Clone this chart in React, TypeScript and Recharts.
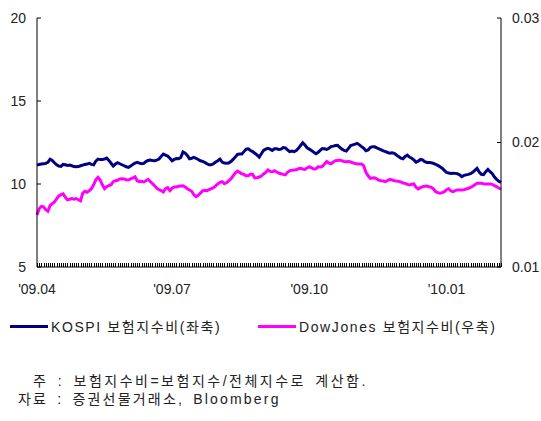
import React from "react";
import { LineChart, Line, XAxis, YAxis } from "recharts";

const kospiRatio: number[] = [
  11.14, 11.18, 11.2, 11.22, 11.24, 11.3, 11.49, 11.42, 11.28, 11.16,
  11.08, 11.06, 11.18, 11.16, 11.12, 11.14, 11.1, 11.05, 11.04, 11.05,
  11.1, 11.14, 11.18, 11.2, 11.24, 11.18, 11.16, 11.38, 11.5, 11.47,
  11.48, 11.5, 11.56, 11.42, 11.25, 11.08, 11.2, 11.28, 11.22, 11.16,
  11.1, 11.04, 11.0, 11.08, 11.18, 11.26, 11.3, 11.26, 11.22, 11.24,
  11.35, 11.42, 11.45, 11.42, 11.4, 11.44, 11.5, 11.65, 11.8, 11.74,
  11.68, 11.55, 11.4, 11.48, 11.54, 11.52, 11.6, 11.93, 11.85, 11.72,
  11.52, 11.55, 11.6, 11.55, 11.48, 11.4, 11.36, 11.3, 11.22, 11.16,
  11.16, 11.22, 11.32, 11.4, 11.5, 11.32, 11.26, 11.25, 11.26, 11.35,
  11.48, 11.62, 11.78, 11.8, 11.8, 11.95, 12.1, 12.12, 12.02, 11.95,
  11.85, 11.75, 11.62, 11.82, 12.02, 12.1, 12.15, 12.1, 12.02, 12.12,
  12.12, 12.08, 12.1, 12.2, 12.18, 12.06, 11.95, 11.98, 11.95, 12.02,
  12.15, 12.32, 12.48, 12.35, 12.18, 12.1, 12.02, 11.92, 11.82, 11.9,
  12.02, 12.14, 12.12, 12.08, 12.15, 12.25, 12.28, 12.32, 12.33, 12.2,
  12.1, 12.02, 11.98, 12.15, 12.32, 12.36, 12.4, 12.45, 12.36, 12.25,
  12.15, 12.0, 12.05, 12.2, 12.25, 12.24, 12.18, 12.12, 12.06, 12.0,
  11.95, 11.9, 11.86, 11.88, 11.85, 11.75, 11.65, 11.56, 11.52, 11.66,
  11.74, 11.62, 11.55, 11.45, 11.32, 11.38, 11.48, 11.45, 11.35, 11.3,
  11.3, 11.28, 11.24, 11.18, 11.12, 11.04, 10.95, 10.82, 10.7, 10.66,
  10.64, 10.65, 10.64, 10.62, 10.55, 10.44, 10.52, 10.55, 10.58, 10.62,
  10.7, 10.82, 10.94, 10.72, 10.58, 10.56, 10.74, 10.88, 10.74, 10.62,
  10.42, 10.28, 10.16, 10.1,
];

const dowRatio: number[] = [
  0.01417, 0.01467, 0.01487, 0.01483, 0.0146, 0.01448, 0.01493, 0.01509, 0.01523, 0.01547,
  0.01571, 0.01581, 0.01587, 0.0156, 0.01539, 0.01544, 0.01549, 0.01544, 0.01549, 0.0154,
  0.01531, 0.01593, 0.01608, 0.016, 0.01613, 0.01629, 0.0166, 0.017, 0.0172, 0.01699,
  0.0166, 0.01629, 0.01645, 0.01653, 0.01661, 0.01685, 0.01693, 0.01696, 0.01707, 0.01709,
  0.01707, 0.01701, 0.01699, 0.01707, 0.01715, 0.01725, 0.01693, 0.01685, 0.01688, 0.01683,
  0.01693, 0.01704, 0.01687, 0.01669, 0.01653, 0.01633, 0.01621, 0.01613, 0.01603, 0.01629,
  0.01637, 0.01613, 0.01633, 0.01643, 0.01643, 0.01648, 0.01651, 0.01653, 0.01643, 0.01629,
  0.01619, 0.01608, 0.0158, 0.01565, 0.01576, 0.01593, 0.01611, 0.01616, 0.01613, 0.01621,
  0.01629, 0.01637, 0.01651, 0.01667, 0.0168, 0.01685, 0.01669, 0.01677, 0.01691, 0.01707,
  0.01731, 0.01755, 0.01771, 0.0176, 0.01749, 0.01744, 0.01733, 0.01733, 0.01747, 0.01744,
  0.01715, 0.01717, 0.01723, 0.01731, 0.01747, 0.0176, 0.01779, 0.01768, 0.01765, 0.01773,
  0.01763, 0.01755, 0.01749, 0.01744, 0.0174, 0.0176, 0.01773, 0.01776, 0.01779, 0.01781,
  0.01789, 0.01792, 0.01787, 0.01784, 0.01795, 0.01805, 0.01797, 0.01787, 0.01789, 0.01805,
  0.01803, 0.01808, 0.01827, 0.01847, 0.01835, 0.01829, 0.01843, 0.01853, 0.01856, 0.01859,
  0.01853, 0.01848, 0.01845, 0.01848, 0.01843, 0.01837, 0.01832, 0.01829, 0.01827, 0.01827,
  0.01813, 0.0176, 0.01733, 0.01712, 0.01715, 0.01717, 0.01707, 0.01696, 0.01693, 0.01691,
  0.01685, 0.01696, 0.01704, 0.01699, 0.01693, 0.01691, 0.01688, 0.01683, 0.01675, 0.01672,
  0.01664, 0.01659, 0.01664, 0.01667, 0.0164, 0.01627, 0.01637, 0.01645, 0.01648, 0.01651,
  0.01645, 0.0164, 0.01627, 0.01605, 0.01597, 0.01592, 0.01597, 0.01605, 0.01621, 0.01629,
  0.01611, 0.01605, 0.01613, 0.01619, 0.01619, 0.01619, 0.01621, 0.01627, 0.01632, 0.0164,
  0.01648, 0.01661, 0.01672, 0.01672, 0.01672, 0.01669, 0.01667, 0.01667, 0.01667, 0.01664,
  0.01653, 0.01645, 0.01635, 0.01625,
];

const monthLabels: string[] = ["'09.04", "'09.07", "'09.10", "'10.01"];
const monthLabelIndex: number[] = [0, 62, 125, 188];

const leftTicks: number[] = [5, 10, 15, 20];
const rightTicks: number[] = [0.01, 0.02, 0.03];

const seriesNames: string[] = ["KOSPI 보험지수비(좌축)", "DowJones 보험지수비(우축)"];
const seriesColors: string[] = ["#000080", "#FF00FF"];
const notes: string[] = [
  "주 : 보험지수비=보험지수/전체지수로 계산함.",
  "자료 : 증권선물거래소, Bloomberg",
];

const data = kospiRatio.map((k, i) => ({ idx: i, kospi: k, dow: dowRatio[i] }));

const FONT = "'Liberation Sans', Arial, 'Noto Sans CJK KR', sans-serif";
const tickStyle = { fontSize: 14, fill: "#222", fontFamily: FONT };

function XTick(props: any) {
  const { x, y, payload } = props;
  const p = monthLabelIndex.indexOf(payload.value);
  const lx = Math.round(x) + 0.5;
  return (
    <g>
      <line x1={lx} x2={lx} y1={y} y2={y - 4} stroke="#000" strokeWidth={1} shapeRendering="crispEdges" />
      {p >= 0 ? (
        <text x={x} y={y + 27} textAnchor="middle" fontSize={14} fill="#222" fontFamily={FONT}>
          {monthLabels[p]}
        </text>
      ) : null}
    </g>
  );
}

export default function App() {
  return (
    <div
      style={{
        position: "absolute",
        left: 0,
        top: 0,
        width: 541,
        height: 421,
        background: "#fff",
        fontFamily: FONT,
        color: "#222",
      }}
    >
      <LineChart
        width={541}
        height={300}
        data={data}
        margin={{ top: 18, right: 0, bottom: 0, left: 0 }}
      >
        <XAxis
          dataKey="idx"
          type="category"
          interval={0}
          tickSize={0}
          tickMargin={0}
          tickLine={false}
          height={33}
          stroke="#000"
          tick={<XTick />}
        />
        <YAxis
          yAxisId="left"
          orientation="left"
          domain={[5, 20]}
          ticks={leftTicks}
          width={37}
          tickSize={-4}
          tickMargin={15}
          stroke="#000"
          tick={tickStyle}
          allowDataOverflow
        />
        <YAxis
          yAxisId="right"
          orientation="right"
          domain={[0.01, 0.03]}
          ticks={rightTicks}
          tickFormatter={(v: number) => v.toFixed(2)}
          width={40}
          tickSize={-4}
          tickMargin={15}
          stroke="#000"
          tick={tickStyle}
          allowDataOverflow
        />
        <Line
          yAxisId="left"
          dataKey="kospi"
          stroke={seriesColors[0]}
          strokeWidth={3}
          dot={false}
          isAnimationActive={false}
        />
        <Line
          yAxisId="right"
          dataKey="dow"
          stroke={seriesColors[1]}
          strokeWidth={3}
          dot={false}
          isAnimationActive={false}
        />
      </LineChart>

      {seriesNames.map((name, i) => (
        <div
          key={name}
          style={{
            position: "absolute",
            left: i === 0 ? 10 : 258,
            top: 317,
            height: 18,
            display: "flex",
            alignItems: "center",
            fontSize: 14,
            whiteSpace: "nowrap",
          }}
        >
          <div style={{ width: 38, height: 3, background: seriesColors[i], marginRight: 3 }} />
          <span style={{ letterSpacing: 1.6 }}>{name}</span>
        </div>
      ))}

      {notes.map((n, i) => (
        <div
          key={n}
          style={{
            position: "absolute",
            left: i === 0 ? 33 : 18,
            top: i === 0 ? 372 : 390,
            fontSize: 14,
            lineHeight: "18px",
            letterSpacing: i === 0 ? 2.5 : 2.2,
            wordSpacing: 3,
            whiteSpace: "nowrap",
          }}
        >
          {n}
        </div>
      ))}
    </div>
  );
}
